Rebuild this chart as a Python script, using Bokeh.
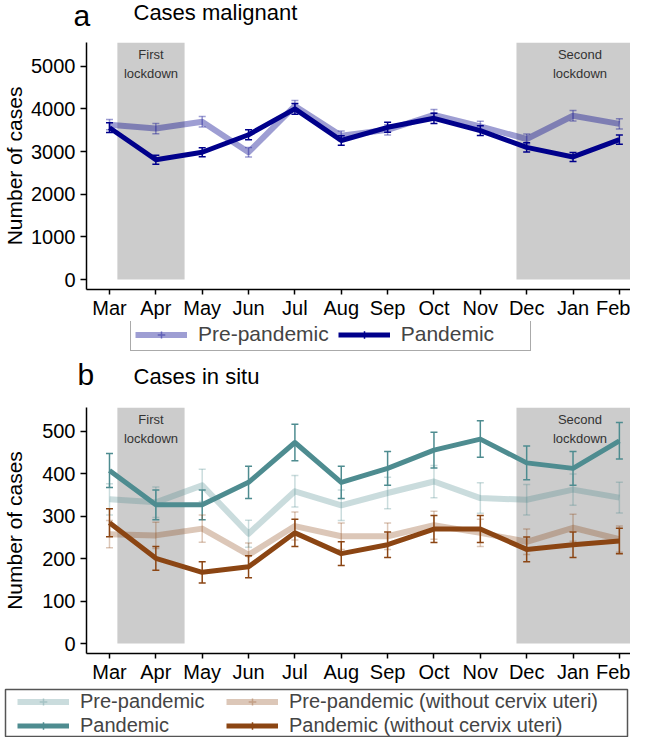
import math
from bokeh.plotting import figure
from bokeh.models import Range1d, FixedTicker, Legend, LegendItem, Label
from bokeh.layouts import column
from bokeh.embed import file_html
from bokeh.resources import INLINE

months = ["Mar", "Apr", "May", "Jun", "Jul", "Aug", "Sep", "Oct", "Nov", "Dec", "Jan", "Feb"]

# Panel a: cases malignant
mal_pre = [3630, 3540, 3700, 2985, 4070, 3370, 3510, 3860, 3590, 3295, 3840, 3650]
mal_pre_err = [120, 120, 125, 110, 130, 115, 120, 125, 120, 115, 125, 120]
mal_pan = [3560, 2810, 2985, 3395, 4000, 3260, 3570, 3780, 3490, 3100, 2875, 3280]
mal_pan_err = [115, 105, 105, 115, 125, 110, 115, 120, 115, 110, 105, 110]

# Panel b: cases in situ
situ_pre = [340, 333, 373, 259, 359, 326, 355, 382, 343, 339, 363, 344]
situ_pre_err = [37, 36, 38, 32, 37, 36, 37, 38, 36, 36, 37, 36]
situ_pan = [408, 327, 327, 380, 474, 380, 413, 456, 482, 426, 413, 478]
situ_pan_err = [40, 35, 35, 38, 43, 38, 40, 42, 43, 40, 40, 43]
situ_pre_nc = [258, 255, 271, 209, 277, 253, 253, 279, 261, 240, 273, 246]
situ_pre_nc_err = [32, 31, 32, 28, 33, 31, 31, 33, 32, 30, 32, 31]
situ_pan_nc = [285, 201, 168, 181, 261, 212, 233, 270, 270, 222, 233, 242]
situ_pan_nc_err = [33, 28, 25, 26, 32, 28, 30, 32, 32, 29, 30, 30]

# Lockdown periods (in month-index units, Mar = 0)
lockdown_start = [0.17, 8.78]
lockdown_end = [1.62, 11.52]
lockdown_name = ["First", "Second"]

FONT = "Liberation Sans"
NAVY = "#00008B"
TEAL = "#4E8C90"
BROWN = "#8B4513"

W = 630
LEFT = 86
XMIN, XMAX = -0.496, 11.24
x_idx = list(range(len(months)))
NAN = float("nan")


def blank(height):
    f = figure(width=W, height=height, x_range=Range1d(0, W), y_range=Range1d(0, height),
               output_backend="svg", toolbar_location=None, title=None,
               x_axis_type=None, y_axis_type=None, frame_align=False,
               min_border_left=0, min_border_right=0, min_border_top=0, min_border_bottom=0)
    f.outline_line_color = None
    f.grid.visible = False
    f.background_fill_color = "white"
    f.border_fill_color = "white"
    return f


def header(height, letter, letter_x, letter_y, title, title_x, title_y):
    h = blank(height)
    h.add_layout(Label(x=letter_x, y=letter_y, text=letter, text_align="left",
                       text_baseline="alphabetic", text_font=FONT, text_font_size="30px",
                       text_color="black"))
    h.add_layout(Label(x=title_x, y=title_y, text=title, text_align="left",
                       text_baseline="alphabetic", text_font=FONT, text_font_size="22px",
                       text_color="black"))
    return h


def plot(frame_h, bottom_b, y0, y1, yticks, series, label_standoff):
    p = figure(width=W, height=frame_h + bottom_b, x_range=Range1d(XMIN, XMAX),
               y_range=Range1d(y0, y1), output_backend="svg", toolbar_location=None,
               title=None, min_border_left=LEFT, min_border_right=0, min_border_top=0,
               min_border_bottom=bottom_b, frame_align=False)
    p.outline_line_color = None
    p.grid.visible = False
    p.background_fill_color = "white"
    p.border_fill_color = "white"
    yu = (y1 - y0) / frame_h

    p.quad(left=lockdown_start, right=lockdown_end, bottom=[0] * len(lockdown_start),
           top=[y1] * len(lockdown_start), fill_color="#CCCCCC", line_color=None)
    for s, e, n in zip(lockdown_start, lockdown_end, lockdown_name):
        cx = (s + e) / 2
        for txt, dy in ((n, 12), ("lockdown", 31)):
            p.add_layout(Label(x=cx, y=y1 - dy * yu, text=txt, text_align="center",
                               text_baseline="middle", text_font=FONT,
                               text_font_size="13px", text_color="#333333"))

    for vals, errs, color, alpha, lw, label in series:
        p.line(x_idx, vals, line_color=color, line_alpha=alpha, line_width=lw,
               line_join="round")
        lo = [v - e for v, e in zip(vals, errs)]
        hi = [v + e for v, e in zip(vals, errs)]
        p.segment(x0=x_idx, y0=lo, x1=x_idx, y1=hi, line_color=color, line_alpha=alpha,
                  line_width=1.5)
        for ys in (lo, hi):
            p.scatter(x_idx, ys, marker="dash", size=7, line_color=color,
                      line_alpha=alpha, line_width=1.5)

    for ax in (p.xaxis[0], p.yaxis[0]):
        ax.axis_line_color = "black"
        ax.axis_line_width = 1.5
        ax.major_tick_line_color = "black"
        ax.major_tick_line_width = 1.5
        ax.minor_tick_line_color = None
        ax.major_tick_in = 0
        ax.major_label_text_font = FONT
        ax.major_label_text_font_size = "20px"
        ax.major_label_text_color = "black"
    p.xaxis.ticker = FixedTicker(ticks=x_idx)
    p.xaxis.major_label_overrides = {i: m for i, m in zip(x_idx, months)}
    p.xaxis.major_tick_out = 5
    p.xaxis.major_label_standoff = 2
    p.yaxis.ticker = FixedTicker(ticks=yticks)
    p.yaxis.major_tick_out = 6
    p.yaxis.major_label_standoff = 5
    p.yaxis.axis_label = "Number of cases"
    p.yaxis.axis_label_text_font = FONT
    p.yaxis.axis_label_text_font_size = "21px"
    p.yaxis.axis_label_text_font_style = "normal"
    p.yaxis.axis_label_text_color = "black"
    p.yaxis.axis_label_standoff = label_standoff
    return p


def make_legend(f, series, loc, boxed, label_width, spacing, orientation, padding=4,
                font_size="21px"):
    items = []
    for vals, errs, color, alpha, lw, label in series:
        ln = f.line([NAN, NAN], [NAN, NAN], line_color=color, line_alpha=alpha, line_width=lw)
        mk = f.scatter([NAN], [NAN], marker="cross", size=12, line_color=color,
                       line_alpha=alpha, line_width=1.5)
        items.append(LegendItem(label=label, renderers=[ln, mk]))
    leg = Legend(items=items, location=loc, orientation=orientation, glyph_width=52,
                 glyph_height=19, label_height=19, label_width=label_width,
                 label_standoff=11, spacing=spacing, padding=padding, margin=0,
                 label_text_font=FONT, label_text_font_size=font_size,
                 label_text_baseline="middle")
    if boxed:
        leg.border_line_color = "#555555"
        leg.border_line_width = 1.5
        leg.background_fill_color = "white"
        leg.background_fill_alpha = 1
    else:
        leg.border_line_color = None
        leg.background_fill_alpha = 0
    f.add_layout(leg, "center")


series_a = [
    (mal_pre, mal_pre_err, NAVY, 0.38, 6, "Pre-pandemic"),
    (mal_pan, mal_pan_err, NAVY, 1.0, 5, "Pandemic"),
]
series_b = [
    (situ_pre, situ_pre_err, TEAL, 0.3, 6, "Pre-pandemic"),
    (situ_pan, situ_pan_err, TEAL, 1.0, 5, "Pandemic"),
    (situ_pre_nc, situ_pre_nc_err, BROWN, 0.3, 6, "Pre-pandemic (without cervix uteri)"),
    (situ_pan_nc, situ_pan_nc_err, BROWN, 1.0, 5, "Pandemic (without cervix uteri)"),
]

ha = header(42, "a", 73, 27, "Cases malignant", 133, 30)
pa = plot(249, 30, -232, 5557, [0, 1000, 2000, 3000, 4000, 5000], series_a, 2)
la = blank(38)
make_legend(la, series_a, (130, 8), True, 125, 9, "horizontal")
hb = header(48, "b", 77, 33.5, "Cases in situ", 133, 31.5)
pb = plot(248, 30, -23.4, 556.5, [0, 100, 200, 300, 400, 500], series_b, 13)
lb = blank(52)
# legend frame for panel b (2 x 2 grid of single-entry legends inside one box)
lb.quad(left=5, right=627, bottom=1, top=48, fill_color="white",
        line_color="#555555", line_width=1.5)
grid_pos = [(17, 24), (17, 0), (226, 24), (226, 0)]
for s, pos in zip(series_b, grid_pos):
    make_legend(lb, [s], pos, False, 20, 0, "vertical", padding=0, font_size="20px")

layout = column(ha, pa, la, hb, pb, lb, spacing=0)
open("out.html", "w").write(file_html(layout, INLINE))
